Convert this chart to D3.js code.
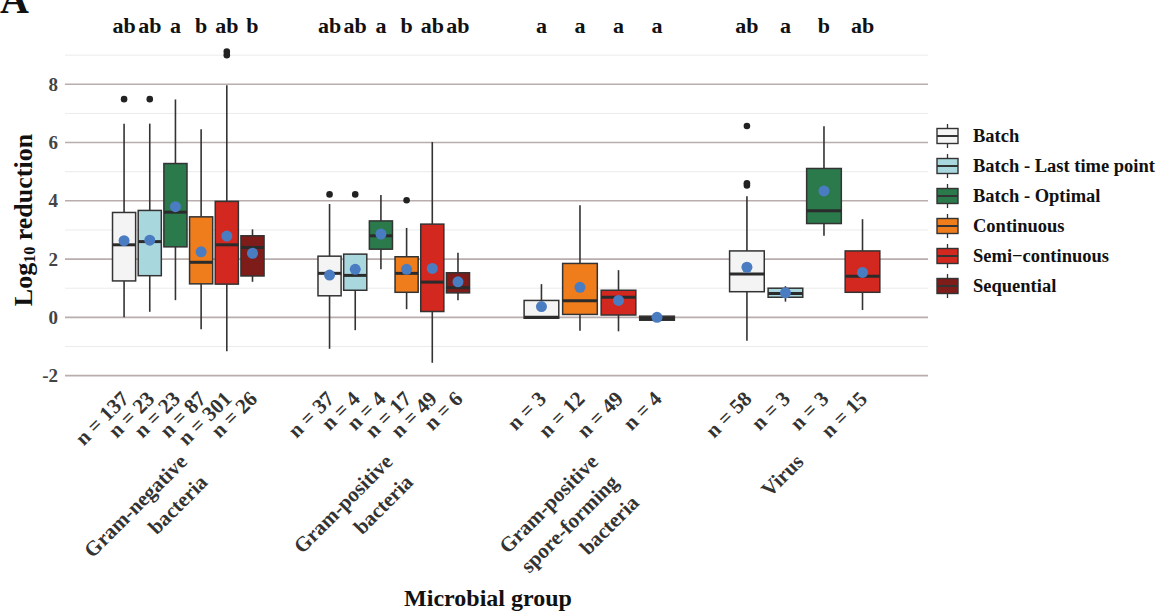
<!DOCTYPE html>
<html>
<head>
<meta charset="utf-8">
<script src="https://cdn.jsdelivr.net/npm/d3@7"></script>
<style>
  body { margin: 0; background: #ffffff; }
</style>
</head>
<body>
<div id="chart"></div>
<script>
// chart frame
const FRAME_WIDTH = 1158;
const FRAME_HEIGHT = 614;
const PLOT = {left: 65, right: 928, top: 84.3, bottom: 375.6};
const FONT = "Liberation Serif";

// data
const GROUPS = ["Gram-negative bacteria", "Gram-positive bacteria",
                "Gram-positive spore-forming bacteria", "Virus"];
const GROUP_LINES = [["Gram-negative", "bacteria"], ["Gram-positive", "bacteria"],
                     ["Gram-positive", "spore-forming", "bacteria"], ["Virus"]];
const METHODS = ["Batch", "Batch - Last time point", "Batch - Optimal",
                 "Continuous", "Semi\u2212continuous", "Sequential"];
const METHOD_COLORS = ["#f4f4f4", "#a9d7de", "#2b7a4c", "#f07d1c", "#d3281f", "#7e1c19"];
const Y_TICKS = [-2, 0, 2, 4, 6, 8];
const Y_MINOR = [-1, 1, 3, 5, 7, 9];

// which methods appear in each group (index into METHODS)
const BOX_METHOD = [[0, 1, 2, 3, 4, 5], [0, 1, 2, 3, 4, 5], [0, 3, 4, 5], [0, 1, 2, 4]];
const BOX_N      = [[137, 23, 23, 87, 301, 26], [37, 4, 4, 17, 49, 6], [3, 12, 49, 4], [58, 3, 3, 15]];
const BOX_LETTER = [["ab", "ab", "a", "b", "ab", "b"], ["ab", "ab", "a", "b", "ab", "ab"],
                    ["a", "a", "a", "a"], ["ab", "a", "b", "ab"]];
const WHISK_LO = [[0, 0.19, 0.59, -0.41, -1.16, 1.22], [-1.08, -0.44, 1.65, 0.28, -1.56, 0.59],
                  [-0.03, -0.46, -0.48, -0.1], [-0.8, 0.54, 2.8, 0.25]];
const Q1       = [[1.25, 1.43, 2.42, 1.15, 1.14, 1.42], [0.74, 0.93, 2.34, 0.86, 0.2, 0.84],
                  [-0.03, 0.1, 0.08, -0.1], [0.88, 0.69, 3.22, 0.86]];
const MEDIAN   = [[2.49, 2.6, 3.61, 1.89, 2.49, 2.4], [1.51, 1.44, 2.8, 1.51, 1.21, 1.02],
                  [0, 0.57, 0.69, -0.04], [1.49, 0.82, 3.66, 1.41]];
const Q3       = [[3.6, 3.67, 5.28, 3.45, 3.98, 2.8], [2.1, 2.17, 3.31, 2.08, 3.2, 1.53],
                  [0.58, 1.85, 0.93, 0.04], [2.28, 1.0, 5.11, 2.28]];
const WHISK_HI = [[6.65, 6.65, 7.48, 6.46, 7.97, 3.02], [3.89, 2.17, 4.2, 3.07, 6.02, 2.22],
                  [1.14, 3.85, 1.62, 0.04], [4.16, 1.07, 6.56, 3.37]];
const MEAN     = [[2.63, 2.65, 3.8, 2.25, 2.79, 2.2], [1.45, 1.65, 2.86, 1.65, 1.68, 1.22],
                  [0.37, 1.03, 0.58, 0], [1.72, 0.84, 4.34, 1.54]];
const OUTLIERS = [[[7.49], [7.49], [], [], [9.0, 9.12], []], [[4.22], [4.22], [], [4.02], [], []],
                  [[], [], [], []], [[4.53, 4.6, 6.57], [], [], []]];

const SVG = d3.select("#chart")
              .append("svg")
                .attr("width", FRAME_WIDTH)
                .attr("height", FRAME_HEIGHT);

// every text of the chart goes through here so that it gets the serif face
function addText(parent) {
  return parent.append("text")
               .attr("font-family", FONT)
               .attr("font-weight", "bold");
}

// scales
const X_SCALE = d3.scalePoint()
                  .domain(GROUPS)
                  .range([PLOT.left, PLOT.right])
                  .padding(0.6);

const Y_SCALE = d3.scaleLinear()
                  .domain([-2, 8])
                  .range([PLOT.bottom, PLOT.top]);

const GROUP_WIDTH = X_SCALE.step() * 0.75;

// gridlines
SVG.selectAll(".minor")
   .data(Y_MINOR)
   .enter()
   .append("line")
     .attr("x1", PLOT.left).attr("x2", PLOT.right)
     .attr("y1", (d) => Y_SCALE(d)).attr("y2", (d) => Y_SCALE(d))
     .attr("stroke", "#ebebeb")
     .attr("stroke-width", 1);

SVG.selectAll(".major")
   .data(Y_TICKS)
   .enter()
   .append("line")
     .attr("x1", PLOT.left).attr("x2", PLOT.right)
     .attr("y1", (d) => Y_SCALE(d)).attr("y2", (d) => Y_SCALE(d))
     .attr("stroke", "#b9adad")
     .attr("stroke-width", 1.6);

// y axis labels
const yAxis = SVG.append("g")
   .attr("transform", "translate(" + (PLOT.left - 7) + ",0)")
   .call(d3.axisLeft(Y_SCALE).tickValues(Y_TICKS).tickSize(0).tickPadding(0)
           .tickFormat((d) => String(d)));
yAxis.select(".domain").remove();
yAxis.attr("font-family", FONT)
     .attr("font-weight", "bold")
     .attr("font-size", "19px");
yAxis.selectAll("text")
     .attr("fill", "#444");

// y title
const yTitle = addText(SVG)
   .attr("transform", "translate(32,220) rotate(-90)")
   .attr("text-anchor", "middle")
   .attr("font-size", "26px")
   .attr("fill", "#111");
yTitle.append("tspan").text("Log");
yTitle.append("tspan").attr("font-size", "16px").attr("dy", 3).text("10");
yTitle.append("tspan").attr("dy", -3).text(" reduction");

// x title
addText(SVG)
   .attr("x", 488).attr("y", 606)
   .attr("text-anchor", "middle")
   .attr("font-size", "24px")
   .attr("fill", "#111")
   .text("Microbial group");

// panel letter, cut at the top edge
addText(SVG)
   .attr("x", 0).attr("y", 13)
   .attr("font-size", "40px")
   .attr("fill", "#111")
   .text("A");

// boxes
GROUPS.forEach((g, gi) => {
  const cx = X_SCALE(g);
  const slot = d3.scaleBand()
                 .domain(d3.range(BOX_METHOD[gi].length))
                 .range([cx - GROUP_WIDTH / 2, cx + GROUP_WIDTH / 2]);
  const bw = slot.bandwidth() * 0.9;

  BOX_METHOD[gi].forEach((m, bi) => {
    const x = slot(bi) + slot.bandwidth() / 2;
    const layer = SVG.append("g");

    // whiskers
    layer.append("line")
         .attr("x1", x).attr("x2", x)
         .attr("y1", Y_SCALE(WHISK_HI[gi][bi])).attr("y2", Y_SCALE(Q3[gi][bi]))
         .attr("stroke", "#333").attr("stroke-width", 1.6);
    layer.append("line")
         .attr("x1", x).attr("x2", x)
         .attr("y1", Y_SCALE(Q1[gi][bi])).attr("y2", Y_SCALE(WHISK_LO[gi][bi]))
         .attr("stroke", "#333").attr("stroke-width", 1.6);

    // box
    layer.append("rect")
         .attr("x", x - bw / 2)
         .attr("y", Y_SCALE(Q3[gi][bi]))
         .attr("width", bw)
         .attr("height", Math.max(Y_SCALE(Q1[gi][bi]) - Y_SCALE(Q3[gi][bi]), 1))
         .attr("fill", METHOD_COLORS[m])
         .attr("stroke", "#333")
         .attr("stroke-width", 1.5);

    // median
    layer.append("line")
         .attr("x1", x - bw / 2).attr("x2", x + bw / 2)
         .attr("y1", Y_SCALE(MEDIAN[gi][bi])).attr("y2", Y_SCALE(MEDIAN[gi][bi]))
         .attr("stroke", "#2b2b2b").attr("stroke-width", 3);

    // outliers
    layer.selectAll(".out")
         .data(OUTLIERS[gi][bi])
         .enter()
         .append("circle")
           .attr("cx", x)
           .attr("cy", (d) => Y_SCALE(d))
           .attr("r", 3.3)
           .attr("fill", "#222");

    // mean
    layer.append("circle")
         .attr("cx", x).attr("cy", Y_SCALE(MEAN[gi][bi]))
         .attr("r", 5.5)
         .attr("fill", "#4a7cc2");

    // significance letter
    addText(SVG)
       .attr("x", x).attr("y", 33)
       .attr("text-anchor", "middle")
       .attr("font-size", "22px")
       .attr("fill", "#111")
       .text(BOX_LETTER[gi][bi]);

    // n label
    addText(SVG)
       .attr("transform", "translate(" + (x + 6) + ",400) rotate(-45)")
       .attr("text-anchor", "end")
       .attr("font-size", "21px")
       .attr("fill", "#333")
       .text("n = " + BOX_N[gi][bi]);
  });

  // group label
  const lab = addText(SVG)
     .attr("transform", "translate(" + cx + ",463) rotate(-45)")
     .attr("text-anchor", "end")
     .attr("font-size", "21px")
     .attr("fill", "#333");
  GROUP_LINES[gi].forEach((line, li) => {
    lab.append("tspan")
       .attr("x", 0)
       .attr("y", li * 29)
       .text(line);
  });
});

// legend
const legend = SVG.append("g").attr("transform", "translate(937,136)");
METHODS.forEach((m, i) => {
  const row = legend.append("g").attr("transform", "translate(0," + (i * 30) + ")");
  row.append("line")
     .attr("x1", 10.5).attr("x2", 10.5).attr("y1", -12).attr("y2", 12)
     .attr("stroke", "#333").attr("stroke-width", 1.3);
  row.append("rect")
     .attr("x", 0).attr("y", -7.5).attr("width", 21).attr("height", 15)
     .attr("fill", METHOD_COLORS[i])
     .attr("stroke", "#333").attr("stroke-width", 1.4);
  row.append("line")
     .attr("x1", 0).attr("x2", 21).attr("y1", 0).attr("y2", 0)
     .attr("stroke", "#333").attr("stroke-width", 2);
  addText(row)
     .attr("x", 36).attr("y", 6)
     .attr("font-size", "18.5px")
     .attr("fill", "#111")
     .text(m);
});
</script>
</body>
</html>
